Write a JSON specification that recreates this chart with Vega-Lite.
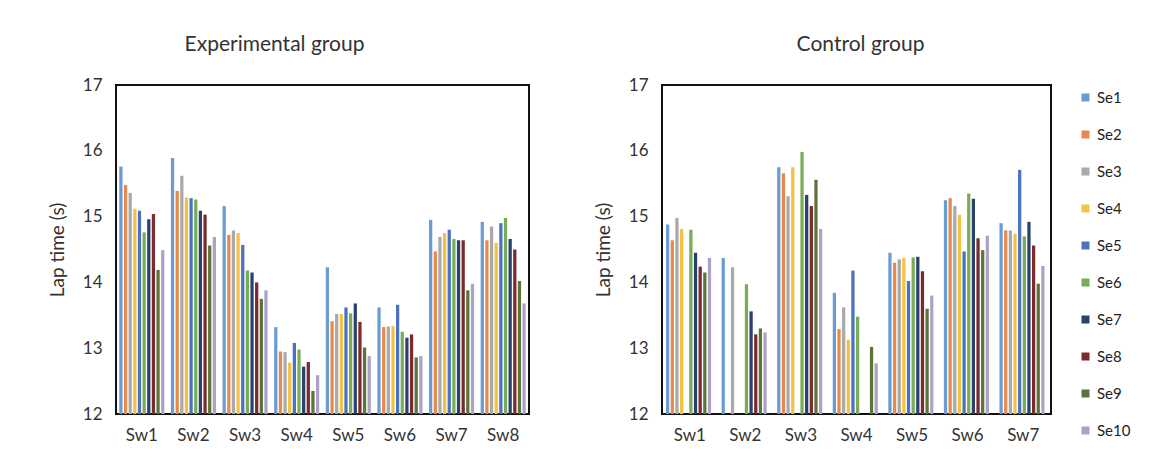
{
  "$schema": "https://vega.github.io/schema/vega-lite/v6.json",
  "background": "white",
  "padding": {"left": 47, "top": 33, "right": 5, "bottom": 5},
  "spacing": 63,
  "config": {
    "font": "Lato",
    "view": {"stroke": "#111", "strokeWidth": 2},
    "title": {"fontSize": 21, "fontWeight": "normal", "color": "#333", "offset": 21, "anchor": "middle"},
    "axis": {"labelFontSize": 17, "labelColor": "#333", "titleFontSize": 19, "titleFontWeight": "normal", "titleColor": "#333", "grid": false, "ticks": false, "domain": false}
  },
  "data": {
    "values": [
      {"group": "Experimental", "sw": "Sw1", "se": "Se1", "t": 15.76},
      {"group": "Experimental", "sw": "Sw1", "se": "Se2", "t": 15.48},
      {"group": "Experimental", "sw": "Sw1", "se": "Se3", "t": 15.36},
      {"group": "Experimental", "sw": "Sw1", "se": "Se4", "t": 15.12},
      {"group": "Experimental", "sw": "Sw1", "se": "Se5", "t": 15.09},
      {"group": "Experimental", "sw": "Sw1", "se": "Se6", "t": 14.76},
      {"group": "Experimental", "sw": "Sw1", "se": "Se7", "t": 14.96},
      {"group": "Experimental", "sw": "Sw1", "se": "Se8", "t": 15.04},
      {"group": "Experimental", "sw": "Sw1", "se": "Se9", "t": 14.19},
      {"group": "Experimental", "sw": "Sw1", "se": "Se10", "t": 14.49},
      {"group": "Experimental", "sw": "Sw2", "se": "Se1", "t": 15.89},
      {"group": "Experimental", "sw": "Sw2", "se": "Se2", "t": 15.39},
      {"group": "Experimental", "sw": "Sw2", "se": "Se3", "t": 15.62},
      {"group": "Experimental", "sw": "Sw2", "se": "Se4", "t": 15.29},
      {"group": "Experimental", "sw": "Sw2", "se": "Se5", "t": 15.28},
      {"group": "Experimental", "sw": "Sw2", "se": "Se6", "t": 15.26},
      {"group": "Experimental", "sw": "Sw2", "se": "Se7", "t": 15.09},
      {"group": "Experimental", "sw": "Sw2", "se": "Se8", "t": 15.03},
      {"group": "Experimental", "sw": "Sw2", "se": "Se9", "t": 14.56},
      {"group": "Experimental", "sw": "Sw2", "se": "Se10", "t": 14.69},
      {"group": "Experimental", "sw": "Sw3", "se": "Se1", "t": 15.16},
      {"group": "Experimental", "sw": "Sw3", "se": "Se2", "t": 14.72},
      {"group": "Experimental", "sw": "Sw3", "se": "Se3", "t": 14.79},
      {"group": "Experimental", "sw": "Sw3", "se": "Se4", "t": 14.75},
      {"group": "Experimental", "sw": "Sw3", "se": "Se5", "t": 14.57},
      {"group": "Experimental", "sw": "Sw3", "se": "Se6", "t": 14.18},
      {"group": "Experimental", "sw": "Sw3", "se": "Se7", "t": 14.15},
      {"group": "Experimental", "sw": "Sw3", "se": "Se8", "t": 14.0},
      {"group": "Experimental", "sw": "Sw3", "se": "Se9", "t": 13.75},
      {"group": "Experimental", "sw": "Sw3", "se": "Se10", "t": 13.88},
      {"group": "Experimental", "sw": "Sw4", "se": "Se1", "t": 13.32},
      {"group": "Experimental", "sw": "Sw4", "se": "Se2", "t": 12.95},
      {"group": "Experimental", "sw": "Sw4", "se": "Se3", "t": 12.94},
      {"group": "Experimental", "sw": "Sw4", "se": "Se4", "t": 12.78},
      {"group": "Experimental", "sw": "Sw4", "se": "Se5", "t": 13.08},
      {"group": "Experimental", "sw": "Sw4", "se": "Se6", "t": 12.98},
      {"group": "Experimental", "sw": "Sw4", "se": "Se7", "t": 12.72},
      {"group": "Experimental", "sw": "Sw4", "se": "Se8", "t": 12.79},
      {"group": "Experimental", "sw": "Sw4", "se": "Se9", "t": 12.35},
      {"group": "Experimental", "sw": "Sw4", "se": "Se10", "t": 12.59},
      {"group": "Experimental", "sw": "Sw5", "se": "Se1", "t": 14.23},
      {"group": "Experimental", "sw": "Sw5", "se": "Se2", "t": 13.41},
      {"group": "Experimental", "sw": "Sw5", "se": "Se3", "t": 13.52},
      {"group": "Experimental", "sw": "Sw5", "se": "Se4", "t": 13.52},
      {"group": "Experimental", "sw": "Sw5", "se": "Se5", "t": 13.62},
      {"group": "Experimental", "sw": "Sw5", "se": "Se6", "t": 13.53},
      {"group": "Experimental", "sw": "Sw5", "se": "Se7", "t": 13.68},
      {"group": "Experimental", "sw": "Sw5", "se": "Se8", "t": 13.4},
      {"group": "Experimental", "sw": "Sw5", "se": "Se9", "t": 13.01},
      {"group": "Experimental", "sw": "Sw5", "se": "Se10", "t": 12.88},
      {"group": "Experimental", "sw": "Sw6", "se": "Se1", "t": 13.62},
      {"group": "Experimental", "sw": "Sw6", "se": "Se2", "t": 13.32},
      {"group": "Experimental", "sw": "Sw6", "se": "Se3", "t": 13.33},
      {"group": "Experimental", "sw": "Sw6", "se": "Se4", "t": 13.34},
      {"group": "Experimental", "sw": "Sw6", "se": "Se5", "t": 13.66},
      {"group": "Experimental", "sw": "Sw6", "se": "Se6", "t": 13.25},
      {"group": "Experimental", "sw": "Sw6", "se": "Se7", "t": 13.16},
      {"group": "Experimental", "sw": "Sw6", "se": "Se8", "t": 13.21},
      {"group": "Experimental", "sw": "Sw6", "se": "Se9", "t": 12.86},
      {"group": "Experimental", "sw": "Sw6", "se": "Se10", "t": 12.88},
      {"group": "Experimental", "sw": "Sw7", "se": "Se1", "t": 14.95},
      {"group": "Experimental", "sw": "Sw7", "se": "Se2", "t": 14.47},
      {"group": "Experimental", "sw": "Sw7", "se": "Se3", "t": 14.69},
      {"group": "Experimental", "sw": "Sw7", "se": "Se4", "t": 14.75},
      {"group": "Experimental", "sw": "Sw7", "se": "Se5", "t": 14.8},
      {"group": "Experimental", "sw": "Sw7", "se": "Se6", "t": 14.66},
      {"group": "Experimental", "sw": "Sw7", "se": "Se7", "t": 14.64},
      {"group": "Experimental", "sw": "Sw7", "se": "Se8", "t": 14.64},
      {"group": "Experimental", "sw": "Sw7", "se": "Se9", "t": 13.88},
      {"group": "Experimental", "sw": "Sw7", "se": "Se10", "t": 13.98},
      {"group": "Experimental", "sw": "Sw8", "se": "Se1", "t": 14.92},
      {"group": "Experimental", "sw": "Sw8", "se": "Se2", "t": 14.64},
      {"group": "Experimental", "sw": "Sw8", "se": "Se3", "t": 14.85},
      {"group": "Experimental", "sw": "Sw8", "se": "Se4", "t": 14.6},
      {"group": "Experimental", "sw": "Sw8", "se": "Se5", "t": 14.9},
      {"group": "Experimental", "sw": "Sw8", "se": "Se6", "t": 14.98},
      {"group": "Experimental", "sw": "Sw8", "se": "Se7", "t": 14.66},
      {"group": "Experimental", "sw": "Sw8", "se": "Se8", "t": 14.5},
      {"group": "Experimental", "sw": "Sw8", "se": "Se9", "t": 14.02},
      {"group": "Experimental", "sw": "Sw8", "se": "Se10", "t": 13.68},
      {"group": "Control", "sw": "Sw1", "se": "Se1", "t": 14.88},
      {"group": "Control", "sw": "Sw1", "se": "Se2", "t": 14.64},
      {"group": "Control", "sw": "Sw1", "se": "Se3", "t": 14.98},
      {"group": "Control", "sw": "Sw1", "se": "Se4", "t": 14.81},
      {"group": "Control", "sw": "Sw1", "se": "Se6", "t": 14.8},
      {"group": "Control", "sw": "Sw1", "se": "Se7", "t": 14.45},
      {"group": "Control", "sw": "Sw1", "se": "Se8", "t": 14.24},
      {"group": "Control", "sw": "Sw1", "se": "Se9", "t": 14.15},
      {"group": "Control", "sw": "Sw1", "se": "Se10", "t": 14.37},
      {"group": "Control", "sw": "Sw2", "se": "Se1", "t": 14.37},
      {"group": "Control", "sw": "Sw2", "se": "Se3", "t": 14.23},
      {"group": "Control", "sw": "Sw2", "se": "Se6", "t": 13.97},
      {"group": "Control", "sw": "Sw2", "se": "Se7", "t": 13.56},
      {"group": "Control", "sw": "Sw2", "se": "Se8", "t": 13.21},
      {"group": "Control", "sw": "Sw2", "se": "Se9", "t": 13.3},
      {"group": "Control", "sw": "Sw2", "se": "Se10", "t": 13.24},
      {"group": "Control", "sw": "Sw3", "se": "Se1", "t": 15.75},
      {"group": "Control", "sw": "Sw3", "se": "Se2", "t": 15.66},
      {"group": "Control", "sw": "Sw3", "se": "Se3", "t": 15.31},
      {"group": "Control", "sw": "Sw3", "se": "Se4", "t": 15.75},
      {"group": "Control", "sw": "Sw3", "se": "Se6", "t": 15.98},
      {"group": "Control", "sw": "Sw3", "se": "Se7", "t": 15.33},
      {"group": "Control", "sw": "Sw3", "se": "Se8", "t": 15.16},
      {"group": "Control", "sw": "Sw3", "se": "Se9", "t": 15.56},
      {"group": "Control", "sw": "Sw3", "se": "Se10", "t": 14.81},
      {"group": "Control", "sw": "Sw4", "se": "Se1", "t": 13.84},
      {"group": "Control", "sw": "Sw4", "se": "Se2", "t": 13.29},
      {"group": "Control", "sw": "Sw4", "se": "Se3", "t": 13.62},
      {"group": "Control", "sw": "Sw4", "se": "Se4", "t": 13.13},
      {"group": "Control", "sw": "Sw4", "se": "Se5", "t": 14.18},
      {"group": "Control", "sw": "Sw4", "se": "Se6", "t": 13.48},
      {"group": "Control", "sw": "Sw4", "se": "Se9", "t": 13.02},
      {"group": "Control", "sw": "Sw4", "se": "Se10", "t": 12.77},
      {"group": "Control", "sw": "Sw5", "se": "Se1", "t": 14.45},
      {"group": "Control", "sw": "Sw5", "se": "Se2", "t": 14.3},
      {"group": "Control", "sw": "Sw5", "se": "Se3", "t": 14.35},
      {"group": "Control", "sw": "Sw5", "se": "Se4", "t": 14.37},
      {"group": "Control", "sw": "Sw5", "se": "Se5", "t": 14.02},
      {"group": "Control", "sw": "Sw5", "se": "Se6", "t": 14.38},
      {"group": "Control", "sw": "Sw5", "se": "Se7", "t": 14.39},
      {"group": "Control", "sw": "Sw5", "se": "Se8", "t": 14.17},
      {"group": "Control", "sw": "Sw5", "se": "Se9", "t": 13.6},
      {"group": "Control", "sw": "Sw5", "se": "Se10", "t": 13.8},
      {"group": "Control", "sw": "Sw6", "se": "Se1", "t": 15.25},
      {"group": "Control", "sw": "Sw6", "se": "Se2", "t": 15.28},
      {"group": "Control", "sw": "Sw6", "se": "Se3", "t": 15.16},
      {"group": "Control", "sw": "Sw6", "se": "Se4", "t": 15.03},
      {"group": "Control", "sw": "Sw6", "se": "Se5", "t": 14.47},
      {"group": "Control", "sw": "Sw6", "se": "Se6", "t": 15.35},
      {"group": "Control", "sw": "Sw6", "se": "Se7", "t": 15.27},
      {"group": "Control", "sw": "Sw6", "se": "Se8", "t": 14.67},
      {"group": "Control", "sw": "Sw6", "se": "Se9", "t": 14.49},
      {"group": "Control", "sw": "Sw6", "se": "Se10", "t": 14.71},
      {"group": "Control", "sw": "Sw7", "se": "Se1", "t": 14.9},
      {"group": "Control", "sw": "Sw7", "se": "Se2", "t": 14.79},
      {"group": "Control", "sw": "Sw7", "se": "Se3", "t": 14.79},
      {"group": "Control", "sw": "Sw7", "se": "Se4", "t": 14.74},
      {"group": "Control", "sw": "Sw7", "se": "Se5", "t": 15.71},
      {"group": "Control", "sw": "Sw7", "se": "Se6", "t": 14.7},
      {"group": "Control", "sw": "Sw7", "se": "Se7", "t": 14.92},
      {"group": "Control", "sw": "Sw7", "se": "Se8", "t": 14.56},
      {"group": "Control", "sw": "Sw7", "se": "Se9", "t": 13.98},
      {"group": "Control", "sw": "Sw7", "se": "Se10", "t": 14.25}
    ]
  },
  "resolve": {"scale": {"color": "shared"}, "legend": {"color": "independent"}},
  "hconcat": [
    {
      "title": {"text": "Experimental group", "dx": -48},
      "width": 413,
      "height": 329,
      "transform": [{"filter": "datum.group === 'Experimental'"}],
      "mark": {"type": "bar"},
      "encoding": {
        "x": {"field": "sw", "type": "nominal", "title": null, "sort": null,
              "scale": {"paddingInner": 0.1, "paddingOuter": 0.05},
              "axis": {"labelAngle": 0, "labelPadding": 13}},
        "xOffset": {"field": "se", "type": "nominal",
                    "scale": {"domain": ["Se1","Se2","Se3","Se4","Se5","Se6","Se7","Se8","Se9","Se10"], "paddingInner": 0.3, "paddingOuter": 0.15}},
        "y": {"field": "t", "type": "quantitative", "title": "Lap time (s)",
              "scale": {"domain": [12, 17], "nice": false, "zero": false},
              "axis": {"values": [12, 13, 14, 15, 16, 17], "labelPadding": 14, "titlePadding": 15}},
        "y2": {"datum": 12},
        "color": {"field": "se", "type": "nominal", "legend": null,
                  "scale": {"domain": ["Se1","Se2","Se3","Se4","Se5","Se6","Se7","Se8","Se9","Se10"],
                            "range": ["#6A9BD3","#E8894B","#A9A9A9","#F5C142","#4A72C0","#77AD57","#2A4170","#7B2B2B","#5C7339","#ABA2C6"]}}
      }
    },
    {
      "title": {"text": "Control group", "dx": 4},
      "width": 389,
      "height": 329,
      "transform": [{"filter": "datum.group === 'Control'"}],
      "mark": {"type": "bar"},
      "encoding": {
        "x": {"field": "sw", "type": "nominal", "title": null, "sort": null,
              "scale": {"paddingInner": 0.12, "paddingOuter": 0.06},
              "axis": {"labelAngle": 0, "labelPadding": 13}},
        "xOffset": {"field": "se", "type": "nominal",
                    "scale": {"domain": ["Se1","Se2","Se3","Se4","Se5","Se6","Se7","Se8","Se9","Se10"], "paddingInner": 0.3, "paddingOuter": 0.15}},
        "y": {"field": "t", "type": "quantitative", "title": "Lap time (s)",
              "scale": {"domain": [12, 17], "nice": false, "zero": false},
              "axis": {"values": [12, 13, 14, 15, 16, 17], "labelPadding": 14, "titlePadding": 15}},
        "y2": {"datum": 12},
        "color": {"field": "se", "type": "nominal",
                  "legend": {"title": null, "orient": "right", "offset": 22, "symbolType": "square", "symbolSize": 64,
                             "symbolStrokeWidth": 0, "labelFontSize": 15, "labelColor": "#222", "labelOffset": 4, "rowPadding": 21, "padding": 5}}
      }
    }
  ]
}
